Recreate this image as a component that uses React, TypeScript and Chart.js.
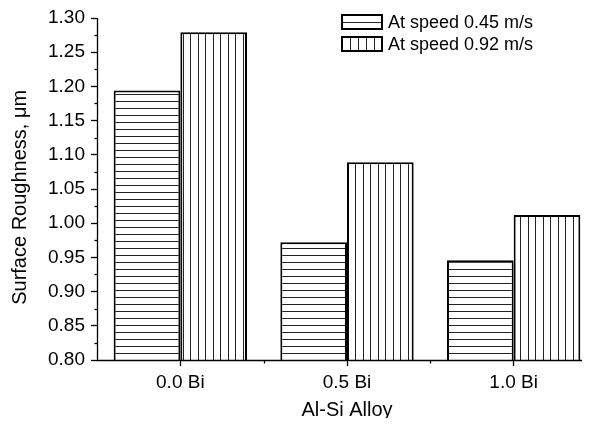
import React, { useEffect, useRef } from "react";
import { Chart, registerables } from "chart.js";

Chart.register(...registerables);

const categories = ["0.0 Bi", "0.5 Bi", "1.0 Bi"];
const seriesNames = ["At speed 0.45 m/s", "At speed 0.92 m/s"];
const speed045 = [1.194, 0.972, 0.946];
const speed092 = [1.279, 1.089, 1.012];
const yMin = 0.8;
const yMax = 1.3;
const yStep = 0.05;

function makePattern(kind: "h" | "v"): CanvasPattern | string {
  const c = document.createElement("canvas");
  const w = kind === "h" ? 8 : 15;
  const h = kind === "h" ? 7 : 8;
  c.width = w;
  c.height = h;
  const ctx = c.getContext("2d");
  if (!ctx) return "#fff";
  ctx.fillStyle = "#fff";
  ctx.fillRect(0, 0, w, h);
  ctx.fillStyle = "#222";
  if (kind === "h") {
    ctx.fillRect(0, 3, w, 1);
  } else {
    ctx.fillRect(3, 0, 1, h);
    ctx.fillRect(10, 0, 1, h);
  }
  const p = ctx.createPattern(c, "repeat");
  return p || "#fff";
}

const FONT = "'Liberation Sans', Arial, sans-serif";

const extrasPlugin = {
  id: "extras",
  afterDraw(chart: any) {
    const ctx = chart.ctx as CanvasRenderingContext2D;
    const x = chart.scales.x;
    const y = chart.scales.y;
    ctx.save();
    ctx.strokeStyle = "#000";
    ctx.lineWidth = 1.3;
    // axis lines on top of bars
    const by = Math.round(y.bottom) + 0.5;
    const lx = Math.round(x.left) + 0.5;
    ctx.beginPath();
    ctx.moveTo(lx, Math.round(y.top));
    ctx.lineTo(lx, by);
    ctx.lineTo(chart.width, by);
    ctx.stroke();
    // minor y ticks
    for (let v = yMin + yStep / 2; v < yMax; v += yStep) {
      const py = Math.round(y.getPixelForValue(v)) + 0.5;
      ctx.beginPath();
      ctx.moveTo(lx - 3, py);
      ctx.lineTo(lx, py);
      ctx.stroke();
    }
    // minor x ticks at category boundaries
    for (let i = 0; i < categories.length - 1; i++) {
      const px = Math.round((x.getPixelForValue(i) + x.getPixelForValue(i + 1)) / 2) + 0.5;
      ctx.beginPath();
      ctx.moveTo(px, by);
      ctx.lineTo(px, by + 3);
      ctx.stroke();
    }
    // legend
    const bx = 342;
    const bw = 40;
    const bh = 14;
    const rows = [15, 37];
    rows.forEach((ty, i) => {
      ctx.fillStyle = "#fff";
      ctx.fillRect(bx, ty, bw, bh);
      ctx.strokeStyle = "#222";
      ctx.lineWidth = 1;
      ctx.beginPath();
      if (i === 0) {
        ctx.moveTo(bx, ty + bh / 2 + 0.5);
        ctx.lineTo(bx + bw, ty + bh / 2 + 0.5);
      } else {
        for (let k = 1; k < 5; k++) {
          ctx.moveTo(bx + k * 8 + 0.5, ty);
          ctx.lineTo(bx + k * 8 + 0.5, ty + bh);
        }
      }
      ctx.stroke();
      ctx.strokeStyle = "#000";
      ctx.lineWidth = 2;
      ctx.strokeRect(bx, ty, bw, bh);
      ctx.fillStyle = "#000";
      ctx.font = `18px ${FONT}`;
      ctx.textBaseline = "middle";
      ctx.textAlign = "left";
      ctx.fillText(seriesNames[i], 388, ty + bh / 2 + 1);
    });
    ctx.restore();
  },
};

export default function App() {
  const ref = useRef<HTMLCanvasElement | null>(null);
  useEffect(() => {
    if (!ref.current) return;
    const chart = new Chart(ref.current, {
      type: "bar",
      data: {
        labels: categories,
        datasets: [
          {
            label: seriesNames[0],
            data: speed045,
            backgroundColor: makePattern("h") as any,
            borderColor: "#000",
            borderWidth: 2,
            categoryPercentage: 0.8,
            barPercentage: 1.0,
          },
          {
            label: seriesNames[1],
            data: speed092,
            backgroundColor: makePattern("v") as any,
            borderColor: "#000",
            borderWidth: 2,
            categoryPercentage: 0.8,
            barPercentage: 1.0,
          },
        ],
      },
      options: {
        animation: false,
        responsive: true,
        maintainAspectRatio: false,
        layout: { padding: { top: 18, right: 13, left: 0, bottom: 0 } },
        plugins: { legend: { display: false }, tooltip: { enabled: false } },
        scales: {
          x: {
            offset: true,
            grid: {
              offset: false,
              drawOnChartArea: false,
              tickLength: 6,
              tickColor: "#000",
              tickWidth: 1.3,
            },
            border: { display: false },
            ticks: {
              color: "#000",
              font: { family: FONT, size: 19 },
              padding: 5,
              maxRotation: 0,
            },
            title: {
              display: true,
              text: "Al-Si Alloy",
              color: "#000",
              font: { family: FONT, size: 20 },
              padding: { top: 0, bottom: 4 },
            },
            afterFit: (s: any) => {
              s.height = 66;
            },
          },
          y: {
            min: yMin,
            max: yMax,
            grid: {
              drawOnChartArea: false,
              tickLength: 6,
              tickColor: "#000",
              tickWidth: 1.3,
            },
            border: { display: false },
            ticks: {
              stepSize: yStep,
              color: "#000",
              font: { family: FONT, size: 19 },
              padding: 6,
              callback: (v: any) => Number(v).toFixed(2),
            },
            title: {
              display: true,
              text: "Surface Roughness, \u03bcm   ",
              color: "#000",
              font: { family: FONT, size: 20 },
              padding: { top: 8, bottom: 0 },
            },
            afterFit: (s: any) => {
              s.width = 97;
            },
          },
        },
      },
      plugins: [extrasPlugin],
    });
    return () => chart.destroy();
  }, []);
  return (
    <div style={{ margin: "-8px", width: 590, height: 426, overflow: "hidden" }}>
      <div style={{ width: 610, height: 426, position: "relative" }}>
        <canvas ref={ref} />
      </div>
    </div>
  );
}
